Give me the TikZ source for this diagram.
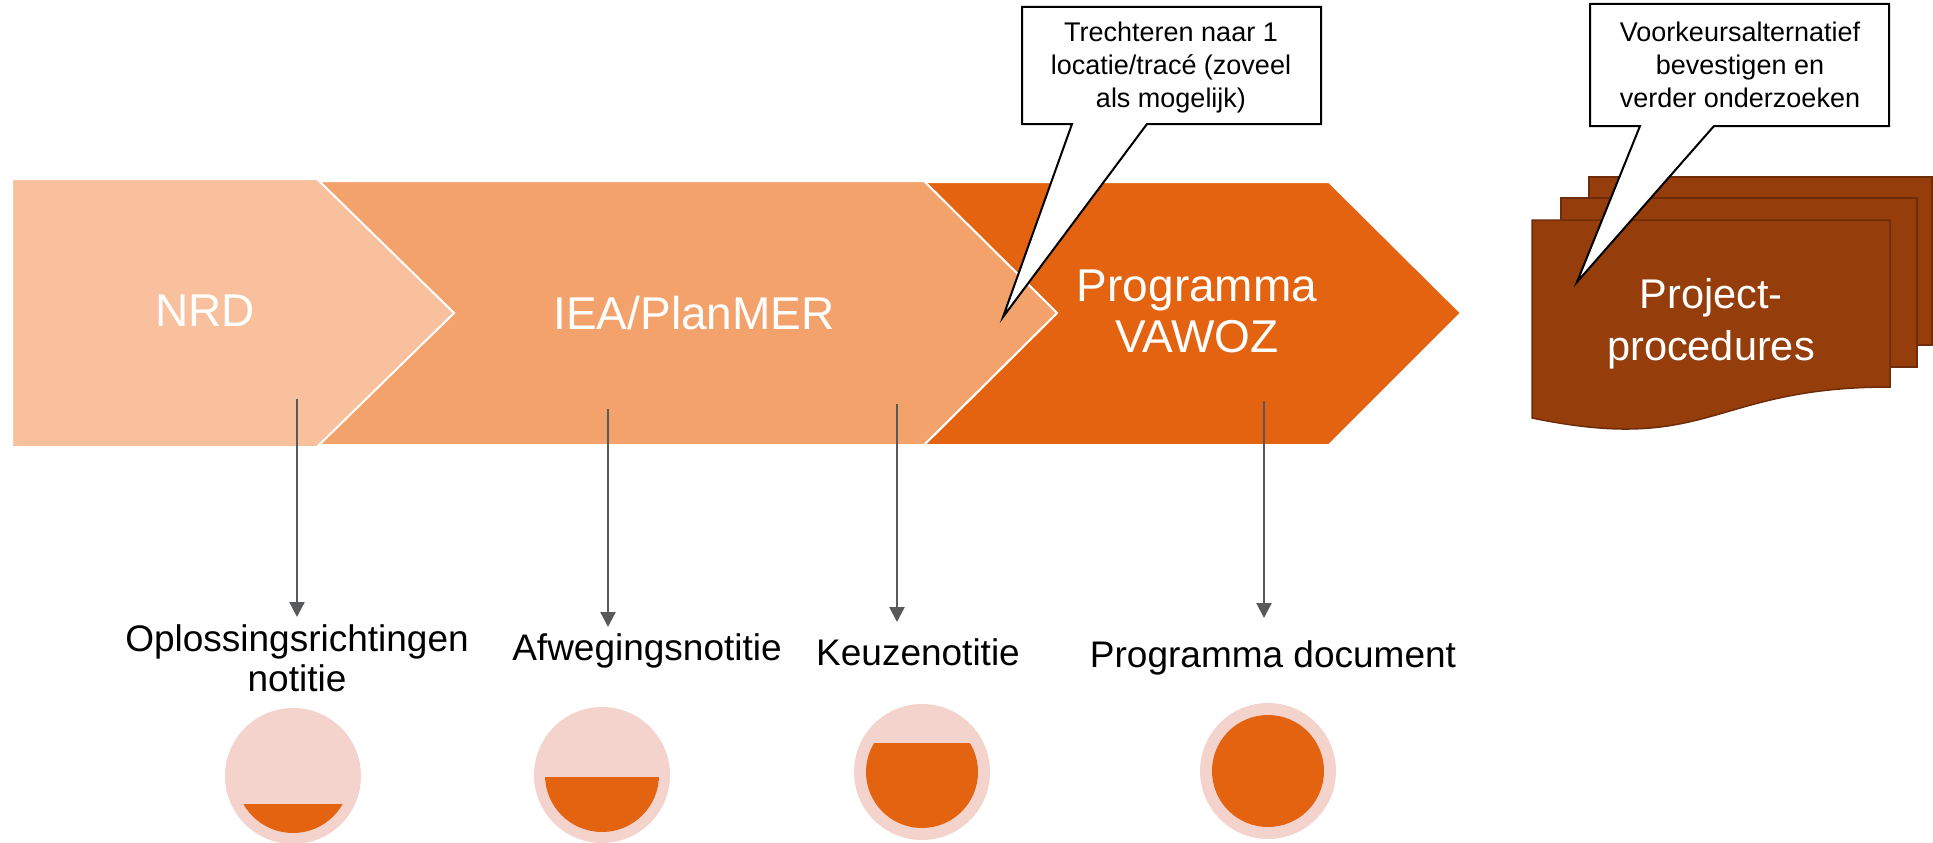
\documentclass[tikz,border=0pt]{standalone}
\usepackage{fontspec}
\setmainfont{Liberation Sans}
\usetikzlibrary{arrows.meta}

\definecolor{peachA}{HTML}{F8C09C}
\definecolor{peachB}{HTML}{F4A26B}
\definecolor{orangeC}{HTML}{E36311}
\definecolor{docbrown}{HTML}{963E0B}
\definecolor{docedge}{HTML}{6E2D08}
\definecolor{pinkbg}{HTML}{F5D3CD}
\definecolor{arrowgrey}{HTML}{58595B}

\newcommand{\fsz}[2]{\fontsize{#1}{#2}\selectfont}

\begin{document}
\begin{tikzpicture}[x=1pt,y=-1pt,
  phase/.style={line width=2pt, draw=white, line join=miter},
  phasetext/.style={text=white, inner sep=0pt, align=center},
  lbl/.style={text=black, inner sep=0pt, align=center, font=\fsz{37}{40}},
  flow/.style={draw=arrowgrey, line width=2.3pt, -{Triangle[length=15pt,width=15pt]}},
  ring/.style={circle, fill=pinkbg, minimum size=136pt, inner sep=0pt},
  sheet/.style={fill=docbrown, draw=docedge, line width=1.5pt},
  callout/.style={fill=white, draw=black, line width=2pt, line join=miter},
  calltext/.style={text=black, inner sep=0pt, align=center, font=\fsz{27}{33}},
]
\useasboundingbox (0,0) rectangle (1933,843);

% process phases, drawn back to front so each white edge overlaps the next
\path[phase, fill=orangeC] (924,182) -- (1329,182) -- (1461,313) -- (1329,445)
  -- (924,445) -- (1057,313) -- cycle;
\path[phase, fill=peachB] (317,181) -- (924,181) -- (1057,313) -- (924,445)
  -- (317,445) -- (454,313) -- cycle;
\path[phase, fill=peachA] (12,179) -- (317,179) -- (454,313) -- (317,447)
  -- (12,447) -- cycle;

\node[phasetext, font=\fsz{46}{51}] (nrd) at (205,311) {NRD};
\node[phasetext, font=\fsz{46}{51}] (iea) at (694,313) {IEA/PlanMER};
\node[phasetext, font=\fsz{46}{51}] (vawoz) at (1197,311) {Programma\\VAWOZ};

% stacked project documents
\path[sheet] (1589,177) rectangle (1932,345);
\path[sheet] (1561,198) rectangle (1917,367);
\path[sheet] (1532,220) -- (1890,220) -- (1890,387)
  .. controls (1711,387) and (1711,455) .. (1532,418) -- cycle;
\node[phasetext, font=\fsz{41.5}{52}] (proj) at (1711,323.5) {Project-\\procedures};

% products of each phase
\node[lbl] (lab1) at (297,658.5) {Oplossingsrichtingen\\notitie};
\node[lbl, anchor=base] (lab2) at (647,660) {Afwegingsnotitie};
\node[lbl, anchor=base] (lab3) at (918,665) {Keuzenotitie};
\node[lbl, anchor=base] (lab4) at (1273,667) {Programma document};

\coordinate (s1) at (297,399); \coordinate (e1) at (297,617);
\coordinate (s2) at (608,409); \coordinate (e2) at (608,627);
\coordinate (s3) at (897,404); \coordinate (e3) at (897,622);
\coordinate (s4) at (1264,401); \coordinate (e4) at (1264,618);
\draw[flow] (s1) -- (e1);
\draw[flow] (s2) -- (e2);
\draw[flow] (s3) -- (e3);
\draw[flow] (s4) -- (e4);

% progress gauges
\node[ring] (g1) at (293,776) {};
\node[ring] (g2) at (602,775) {};
\node[ring] (g3) at (922,772) {};
\node[ring] (g4) at (1268,771) {};
\begin{scope}
  \clip (g1.center) circle[radius=57pt];
  \fill[orangeC] (230,804) rectangle (356,840);
\end{scope}
\begin{scope}
  \clip (g2.center) circle[radius=57pt];
  \fill[orangeC] (540,777) rectangle (665,840);
\end{scope}
\begin{scope}
  \clip (g3.center) circle[radius=56pt];
  \fill[orangeC] (860,743) rectangle (985,840);
\end{scope}
\fill[orangeC] (g4.center) circle[radius=56pt];

% callouts
\path[callout] (1022,7) -- (1321,7) -- (1321,124) -- (1147,124) -- (1003,317)
  -- (1072,124) -- (1022,124) -- cycle;
\node[calltext] (note1) at (1171,68)
  {Trechteren naar 1\\locatie/tracé (zoveel\\als mogelijk)};

\path[callout] (1590,4) -- (1889,4) -- (1889,126) -- (1714,126) -- (1577,282)
  -- (1640,126) -- (1590,126) -- cycle;
\node[calltext] (note2) at (1740,65.2)
  {Voorkeursalternatief\\bevestigen en\\verder onderzoeken};
\end{tikzpicture}
\end{document}
